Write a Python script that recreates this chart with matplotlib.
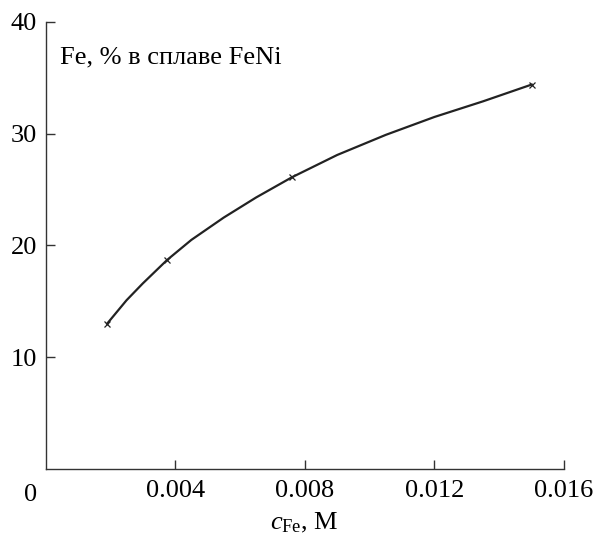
import numpy as np
import matplotlib
matplotlib.use("Agg")
import matplotlib.pyplot as plt

# Measured points (concentration of Fe in solution, M  ->  Fe % in FeNi alloy).
c_fe = [0.0019, 0.00375, 0.0076, 0.0150]
fe_pct = [13.0, 18.7, 26.1, 34.4]

# Smooth curve.
curve_c = [0.0019, 0.0025, 0.0030, 0.00375, 0.0045, 0.0055, 0.0065,
           0.0076, 0.0090, 0.0105, 0.0120, 0.0135, 0.0150]
curve_pct = [13.0, 15.1, 16.6, 18.7, 20.5, 22.5, 24.3,
             26.1, 28.1, 29.9, 31.5, 32.9, 34.4]

xticks = [0.004, 0.008, 0.012, 0.016]
xtick_labels = ["0.004", "0.008", "0.012", "0.016"]
yticks = [10, 20, 30, 40]

plt.rcParams["font.family"] = ["Liberation Serif", "DejaVu Serif"]
plt.rcParams["mathtext.fontset"] = "custom"
plt.rcParams["mathtext.rm"] = "Liberation Serif"
plt.rcParams["mathtext.it"] = "Liberation Serif:italic"
plt.rcParams["font.size"] = 19

fig = plt.figure(figsize=(5.95, 5.35), dpi=100)
ax = fig.add_axes([0.0765, 0.1234, 0.8715, 0.8355])

ax.plot(curve_c, curve_pct, color="#222222", lw=1.6)
ax.plot(c_fe, fe_pct, ls="none", marker="x", ms=5, mew=0.9, color="#222222")

ax.set_xlim(0, 0.016)
ax.set_ylim(0, 40)
ax.set_xticks(xticks)
ax.set_xticklabels(xtick_labels)
ax.set_yticks(yticks)

for side in ["top", "right"]:
    ax.spines[side].set_visible(False)
for side in ["left", "bottom"]:
    ax.spines[side].set_linewidth(1.0)
    ax.spines[side].set_color("#333333")

ax.tick_params(direction="in", length=6.5, width=1.0, color="#333333")
ax.tick_params(axis="x", pad=8)
ax.tick_params(axis="y", pad=6)

# Shared zero at the corner.
ax.annotate("0", xy=(0, 0), xycoords="data", xytext=(-6, -11),
            textcoords="offset points", ha="right", va="top")

ax.set_xlabel(r"$c_{\mathrm{Fe}}$, M", labelpad=6)
ax.text(0.028, 0.908, "Fe, % в сплаве FeNi", transform=ax.transAxes,
        ha="left", va="baseline")

fig.savefig("out.png", dpi=100)
